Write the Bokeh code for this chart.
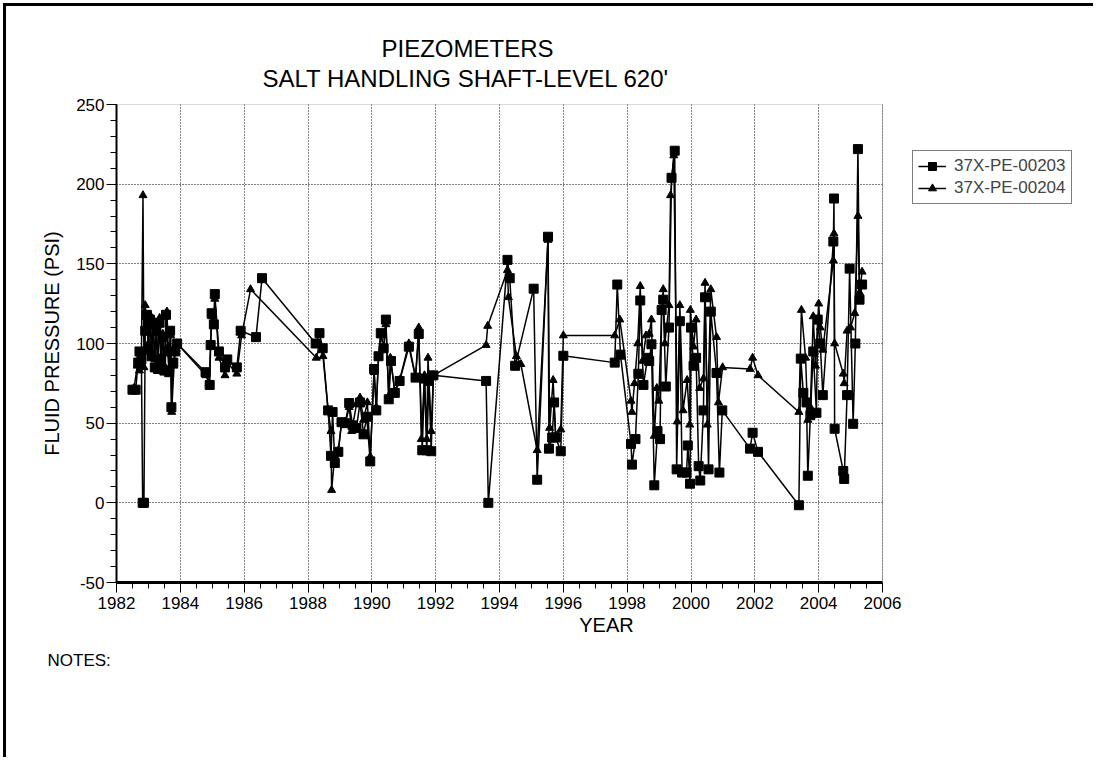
from bokeh.plotting import figure
from bokeh.models import (FixedTicker, Legend, LegendItem, Range1d, Title, BoxAnnotation)
from bokeh.embed import file_html
from bokeh.resources import INLINE

# ---------------- data ----------------
a_years = [1982.50, 1982.60, 1982.68, 1982.72, 1982.78, 1982.82, 1982.86, 1982.90, 1982.95, 1983.00,
           1983.05, 1983.10, 1983.15, 1983.20, 1983.25, 1983.30, 1983.35, 1983.40, 1983.45, 1983.50,
           1983.55, 1983.60, 1983.65, 1983.68, 1983.72, 1983.78, 1983.84, 1983.90,
           1984.79, 1984.92, 1984.95, 1984.98, 1985.05, 1985.08, 1985.21, 1985.40, 1985.47, 1985.77,
           1985.89, 1986.37, 1986.56,
           1988.24, 1988.36, 1988.46, 1988.63, 1988.72, 1988.77, 1988.84, 1988.95, 1989.05, 1989.16,
           1989.29, 1989.40, 1989.52, 1989.63, 1989.74, 1989.84, 1989.95, 1990.07, 1990.14, 1990.21,
           1990.28, 1990.37, 1990.44, 1990.53, 1990.60, 1990.72, 1990.87, 1991.16, 1991.37, 1991.47,
           1991.58, 1991.65, 1991.72, 1991.79, 1991.86, 1991.93,
           1993.58, 1993.65, 1994.25, 1994.32, 1994.49, 1995.07, 1995.18, 1995.52, 1995.55, 1995.65,
           1995.71, 1995.76, 1995.92, 1996.00,
           1997.61, 1997.69, 1997.79, 1998.12, 1998.15, 1998.26, 1998.35, 1998.41, 1998.51, 1998.64,
           1998.69, 1998.76, 1998.85, 1998.95, 1999.03, 1999.08, 1999.13, 1999.21, 1999.31, 1999.39,
           1999.49, 1999.55, 1999.65, 1999.72, 1999.86, 1999.90, 1999.97, 2000.00, 2000.08, 2000.16,
           2000.24, 2000.29, 2000.39, 2000.44, 2000.55, 2000.62, 2000.80, 2000.89, 2000.98,
           2001.85, 2001.93, 2002.10,
           2003.38, 2003.44, 2003.52, 2003.62, 2003.66, 2003.74, 2003.83, 2003.93, 2003.97, 2004.05,
           2004.13, 2004.46, 2004.48, 2004.50, 2004.77, 2004.80, 2004.89, 2004.97, 2005.08, 2005.15,
           2005.23, 2005.28, 2005.36]
a_psi = [71, 71, 88, 95, 90, 0, 0, 108, 118, 96,
         115, 92, 112, 85, 108, 84, 113, 90, 104, 83,
         118, 95, 82, 108, 60, 88, 95, 100,
         82, 74, 99, 119, 112, 131, 95, 85, 90, 85,
         108, 104, 141,
         100, 106.5, 97, 58, 29.5, 57, 25, 32, 50.6, 50,
         62.6, 48.6, 47, 63, 43, 54, 26, 84, 58, 92,
         106.5, 97, 115, 65, 89, 69, 76.5, 98, 78.6, 106,
         33, 78, 33, 76.5, 32.4, 80,
         76.5, 0, 152.5, 141, 86, 134.4, 14.5, 167, 34, 41,
         63, 41, 32.4, 92.3,
         88, 137, 93, 37, 24, 40, 81, 127, 74, 91,
         89, 99.5, 11, 45, 40, 121, 127.5, 73, 110, 204,
         221, 21, 114, 19, 19, 36, 12, 110, 86, 91,
         23, 14, 58, 129, 21, 120, 81.5, 19, 58,
         34, 44, 32,
         -1.5, 90.5, 69, 63, 17, 55, 95, 56.5, 115, 100,
         67.6, 164, 191, 46.5, 20, 15, 67.6, 147, 49.6, 100,
         222, 127.5, 137]

b_years = [1982.55, 1982.65, 1982.72, 1982.78, 1982.83, 1982.86, 1982.90, 1982.95, 1983.00, 1983.05,
           1983.10, 1983.15, 1983.20, 1983.25, 1983.30, 1983.35, 1983.40, 1983.45, 1983.50, 1983.58,
           1983.62, 1983.66, 1983.70, 1983.73, 1983.80, 1983.85, 1983.90,
           1984.80, 1984.90, 1984.95, 1984.98, 1985.05, 1985.08, 1985.21, 1985.40, 1985.47, 1985.77,
           1985.92, 1986.20,
           1988.26, 1988.36, 1988.47, 1988.63, 1988.72, 1988.74, 1988.84, 1988.95, 1989.05, 1989.16,
           1989.29, 1989.37, 1989.52, 1989.63, 1989.74, 1989.86, 1989.95, 1990.07, 1990.14, 1990.21,
           1990.28, 1990.37, 1990.44, 1990.53, 1990.58, 1990.72, 1990.87, 1991.16, 1991.37, 1991.47,
           1991.55, 1991.65, 1991.72, 1991.76, 1991.86, 1991.93,
           1993.58, 1993.63, 1994.25, 1994.28, 1994.53, 1994.67, 1995.18, 1995.52, 1995.57, 1995.68,
           1995.76, 1995.92, 1996.00,
           1997.61, 1997.77, 1998.12, 1998.15, 1998.23, 1998.33, 1998.41, 1998.48, 1998.59, 1998.69,
           1998.76, 1998.85, 1998.93, 1998.99, 1999.08, 1999.13, 1999.18, 1999.31, 1999.36, 1999.46,
           1999.57, 1999.65, 1999.75, 1999.88, 1999.96, 1999.98, 2000.08, 2000.16, 2000.27, 2000.39,
           2000.44, 2000.51, 2000.62, 2000.80, 2000.86, 2000.99,
           2001.85, 2001.93, 2002.10,
           2003.38, 2003.46, 2003.59, 2003.66, 2003.74, 2003.83, 2003.90, 2004.00, 2004.05, 2004.13,
           2004.46, 2004.48, 2004.50, 2004.77, 2004.80, 2004.89, 2005.00, 2005.13, 2005.23, 2005.28,
           2005.36]
b_psi = [72, 86, 83, 90, 193, 85, 124, 110, 100, 118,
         95, 115, 90, 110, 88, 116, 92, 106, 86, 120,
         98, 85, 105, 57, 86, 96, 100,
         80, 75, 100, 117, 113, 128, 91, 80, 88, 81,
         105, 134,
         91, 99, 92, 58, 45, 8, 30, 33, 50, 49,
         60, 45, 62, 66, 52, 63, 29, 82, 60, 92,
         105, 98, 112, 67, 91, 70, 77, 100, 79, 110,
         40, 80, 40, 91, 45, 80,
         99, 111, 146, 129, 92, 87, 33, 165, 47, 77,
         42, 46, 105,
         105, 115, 64, 57, 75, 100, 136, 89, 105, 106,
         115, 42, 72, 64, 120, 134, 100, 124, 193, 218,
         51, 124, 58, 77, 49, 121, 98, 115, 72, 78,
         138, 49, 134, 104, 63, 85,
         84, 91, 80,
         57, 121, 91, 52, 60, 117, 86, 125, 110, 96,
         152, 169, 100, 81, 75, 108, 110, 119, 180, 132,
         145]

series_names = ["37X-PE-00203", "37X-PE-00204"]
x_major = [1982, 1984, 1986, 1988, 1990, 1992, 1994, 1996, 1998, 2000, 2002, 2004, 2006]
y_major = [-50, 0, 50, 100, 150, 200, 250]
title_lines = ["PIEZOMETERS", "SALT HANDLING SHAFT-LEVEL 620'"]
notes_text = "NOTES:"

FONT = "Liberation Sans"

W, H = 1090, 754
LEFT, TOP, PLOT_W, PLOT_H = 110, 98, 766, 478     # plot box inside the canvas (px)
X0, X1 = x_major[0], x_major[-1]
x_end = X0 + (X1 - X0) * (W - LEFT) / PLOT_W       # frame runs to the canvas edge (for the legend)

p = figure(width=W, height=H, output_backend="svg", toolbar_location=None,
           x_range=Range1d(X0, x_end), y_range=Range1d(y_major[0], y_major[-1]),
           min_border_left=LEFT, min_border_top=TOP,
           min_border_right=0, min_border_bottom=H - TOP - PLOT_H,
           background_fill_color="white", border_fill_color="white")
p.styles = {"margin-left": "3px", "margin-top": "3px",
            "border-left": "3px solid black", "border-top": "3px solid black"}
p.outline_line_color = None

p.xaxis.ticker = FixedTicker(ticks=x_major, minor_ticks=[X0 + 0.5 * i for i in range(49)])
p.yaxis.ticker = FixedTicker(ticks=y_major, minor_ticks=list(range(-50, 251, 10)))
p.yaxis.major_label_overrides = {-50: "-50"}
p.xaxis.bounds = (X0, X1)

for ax in (p.xaxis[0], p.yaxis[0]):
    ax.axis_line_color = "black"
    ax.major_tick_line_color = "black"
    ax.minor_tick_line_color = "black"
    ax.major_tick_in = 0
    ax.major_tick_out = 10
    ax.minor_tick_in = 0
    ax.minor_tick_out = 6
    ax.major_label_text_font = FONT
    ax.major_label_text_font_size = "17px"
    ax.major_label_text_color = "black"
    ax.axis_label_text_font = FONT
    ax.axis_label_text_font_size = "20px"
    ax.axis_label_text_font_style = "normal"
    ax.axis_label_text_color = "black"

p.xaxis.axis_line_width = 3
p.yaxis.axis_line_width = 2
p.xaxis.axis_label = "YEAR"
p.yaxis.axis_label = "FLUID PRESSURE (PSI)"
p.xaxis.major_label_standoff = 4
p.yaxis.major_label_standoff = 2
p.xaxis.axis_label_standoff = 2
p.yaxis.axis_label_standoff = 10

for g in (p.xgrid[0], p.ygrid[0]):
    g.grid_line_color = "black"
    g.grid_line_dash = "1 2"
    g.grid_line_width = 1

# blank out the strip right of the plot box, then outline the plot box
p.add_layout(BoxAnnotation(left=X1, fill_color="white", fill_alpha=1, line_color=None))
p.add_layout(BoxAnnotation(left=X0, right=X1, bottom=y_major[0], top=y_major[-1],
                           fill_alpha=0, line_color="black", line_width=1))

line_a = p.line(a_years, a_psi, line_color="black", line_width=1.5)
pts_a = p.scatter(a_years, a_psi, marker="square", size=9, fill_color="black", line_color="black")
line_b = p.line(b_years, b_psi, line_color="black", line_width=1.5)
pts_b = p.scatter(b_years, b_psi, marker="triangle", size=8, fill_color="black", line_color="black")

legend = Legend(items=[LegendItem(label=series_names[0], renderers=[line_a, pts_a]),
                       LegendItem(label=series_names[1], renderers=[line_b, pts_b])],
                location=(PLOT_W + 30, 378), orientation="vertical",
                label_text_font=FONT, label_text_font_size="17px",
                glyph_width=28, glyph_height=20, label_height=20,
                label_standoff=8, padding=5, spacing=2, margin=0,
                border_line_color="black", border_line_width=1,
                background_fill_color="white", background_fill_alpha=1)
p.add_layout(legend, "center")

# title block (stacked outward from the frame)
spacer = Title(text=" ", text_font_size="1px", standoff=9)
t2 = Title(text=title_lines[1], align="left", offset=146, standoff=2,
           text_font=FONT, text_font_size="24px", text_font_style="normal", text_color="black")
t1 = Title(text=title_lines[0], align="left", offset=265, standoff=0,
           text_font=FONT, text_font_size="24px", text_font_style="normal", text_color="black")
p.add_layout(spacer, "above")
p.add_layout(t2, "above")
p.add_layout(t1, "above")

notes = Title(text=notes_text, align="left", offset=-69, standoff=25, vertical_align="top",
              text_font=FONT, text_font_size="17px", text_font_style="normal", text_color="black")
p.add_layout(notes, "below")

open("out.html", "w").write(file_html(p, INLINE))
